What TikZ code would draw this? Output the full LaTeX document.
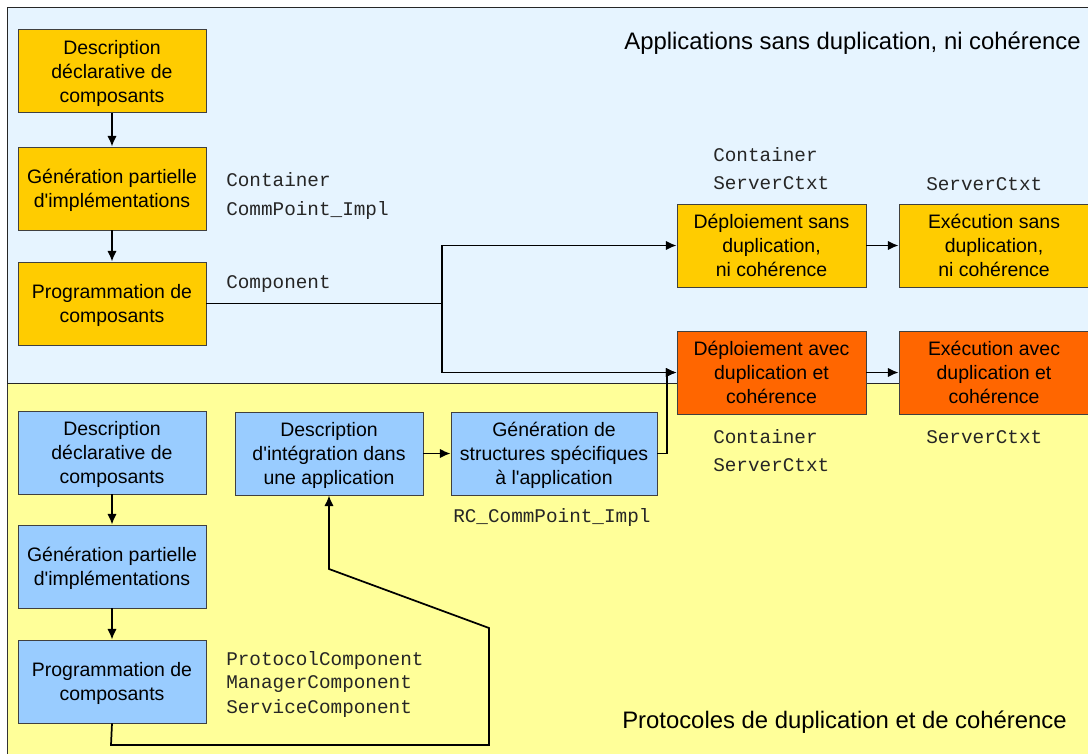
\documentclass[tikz,border=0pt]{standalone}
\usepackage{fontspec}
\setmainfont{Liberation Sans}
\setmonofont{Liberation Mono}
\usetikzlibrary{arrows.meta}
\definecolor{panelblue}{HTML}{E6F4FF}
\definecolor{panelyellow}{HTML}{FFFF99}
\definecolor{boxyellow}{HTML}{FFCC00}
\definecolor{boxorange}{HTML}{FF6600}
\definecolor{boxblue}{HTML}{99CCFF}
\newcommand{\apos}{\textquotesingle}
\begin{document}
\begin{tikzpicture}[x=0.75pt,y=-0.75pt,
  stagebox/.style={draw=black!75, line width=0.6pt, align=center, inner sep=0pt,
    minimum height=83*0.75pt, text depth=0pt, font=\fontsize{14.6}{18}\selectfont},
  ybox/.style={stagebox, fill=boxyellow},
  obox/.style={stagebox, fill=boxorange},
  bbox/.style={stagebox, fill=boxblue},
  codelabel/.style={anchor=west, inner sep=0pt, text=black!85,
    font=\fontsize{14.5}{18}\ttfamily},
  paneltitle/.style={inner sep=0pt, font=\fontsize{17.9}{21}\selectfont},
  flow/.style={line width=1.3pt, -{Latex[length=8pt,width=7pt]}},
  link/.style={line width=1.3pt}]
\useasboundingbox (0,0) rectangle (1088,753);
% panels
\fill[panelyellow] (7,383) rectangle (1100,760);
\draw[black!80, line width=0.6pt] (7,383) -- (7,760);
\draw[black!85, line width=0.6pt, fill=panelblue] (7,7) rectangle (1100,383);

\node[paneltitle, anchor=east] (ttop) at (1081,43) {Applications sans duplication, ni cohérence};
\node[paneltitle, anchor=west] (tbot) at (622,722) {Protocoles de duplication et de cohérence};

% application chain
\node[ybox, minimum width=188*0.75pt] (t1) at (112,71) {Description\\déclarative de\\composants};
\node[ybox, minimum width=188*0.75pt] (t2) at (112,188.5) {Génération partielle\\d\apos implémentations};
\node[ybox, minimum width=188*0.75pt] (t3) at (112,303.5) {Programmation de\\composants};

\node[ybox, minimum width=189*0.75pt] (ds) at (771.5,245.5) {Déploiement sans\\duplication,\\ni cohérence};
\node[ybox, minimum width=190*0.75pt] (es) at (994,245.5) {Exécution sans\\duplication,\\ni cohérence};
\node[obox, minimum width=189*0.75pt] (da) at (771.5,372.5) {Déploiement avec\\duplication et\\cohérence};
\node[obox, minimum width=190*0.75pt] (ea) at (994,372.5) {Exécution avec\\duplication et\\cohérence};

% protocol chain
\node[bbox, minimum width=188*0.75pt] (b1) at (112,452.5) {Description\\déclarative de\\composants};
\node[bbox, minimum width=188*0.75pt] (b2) at (112,566.5) {Génération partielle\\d\apos implémentations};
\node[bbox, minimum width=188*0.75pt] (b3) at (112,681.5) {Programmation de\\composants};
\node[bbox, minimum width=188*0.75pt] (ig) at (329,453.5) {Description\\d\apos intégration dans\\une application};
\node[bbox, minimum width=206*0.75pt] (gs) at (554,453.5) {Génération de\\structures spécifiques\\à l\apos application};

% code labels
\node[codelabel] (c1) at (226,180) {Container};
\node[codelabel] (c2) at (226,210) {CommPoint\_Impl};
\node[codelabel] (c3) at (226,284) {Component};
\node[codelabel] (c4) at (713,155) {Container};
\node[codelabel] (c5) at (713,183) {ServerCtxt};
\node[codelabel] (c6) at (926,184) {ServerCtxt};
\node[codelabel] (c7) at (713,437) {Container};
\node[codelabel] (c8) at (713,465) {ServerCtxt};
\node[codelabel] (c9) at (926,437) {ServerCtxt};
\node[codelabel] (c10) at (453,517) {RC\_CommPoint\_Impl};
\node[codelabel] (c11) at (226,660) {ProtocolComponent};
\node[codelabel] (c12) at (226,684) {ManagerComponent};
\node[codelabel] (c13) at (226,708) {ServiceComponent};

% connectors
\draw[flow] (t1) -- (t2);
\draw[flow] (t2) -- (t3);
\coordinate (split) at (442,303.5);
\draw[link] (t3.east) -- (split);
\draw[flow] (split) |- (ds.west);
\draw[flow] (split) |- (da.west);
\draw[flow] (ds) -- (es);
\draw[flow] (da) -- (ea);

\draw[flow] (b1) -- (b2);
\draw[flow] (b2) -- (b3);
\draw[flow] (ig) -- (gs);
\coordinate (gsout) at (667,453.5);
\draw[flow] (gs.east) -- (gsout) |- (da.west);

\coordinate (l1) at (111,745);
\coordinate (l2) at (489,745);
\coordinate (l3) at (489,628);
\coordinate (l4) at (329,569);
\draw[flow, line join=miter] (b3.south) -- (l1) -- (l2) -- (l3) -- (l4) -- (ig.south);
\end{tikzpicture}
\end{document}
